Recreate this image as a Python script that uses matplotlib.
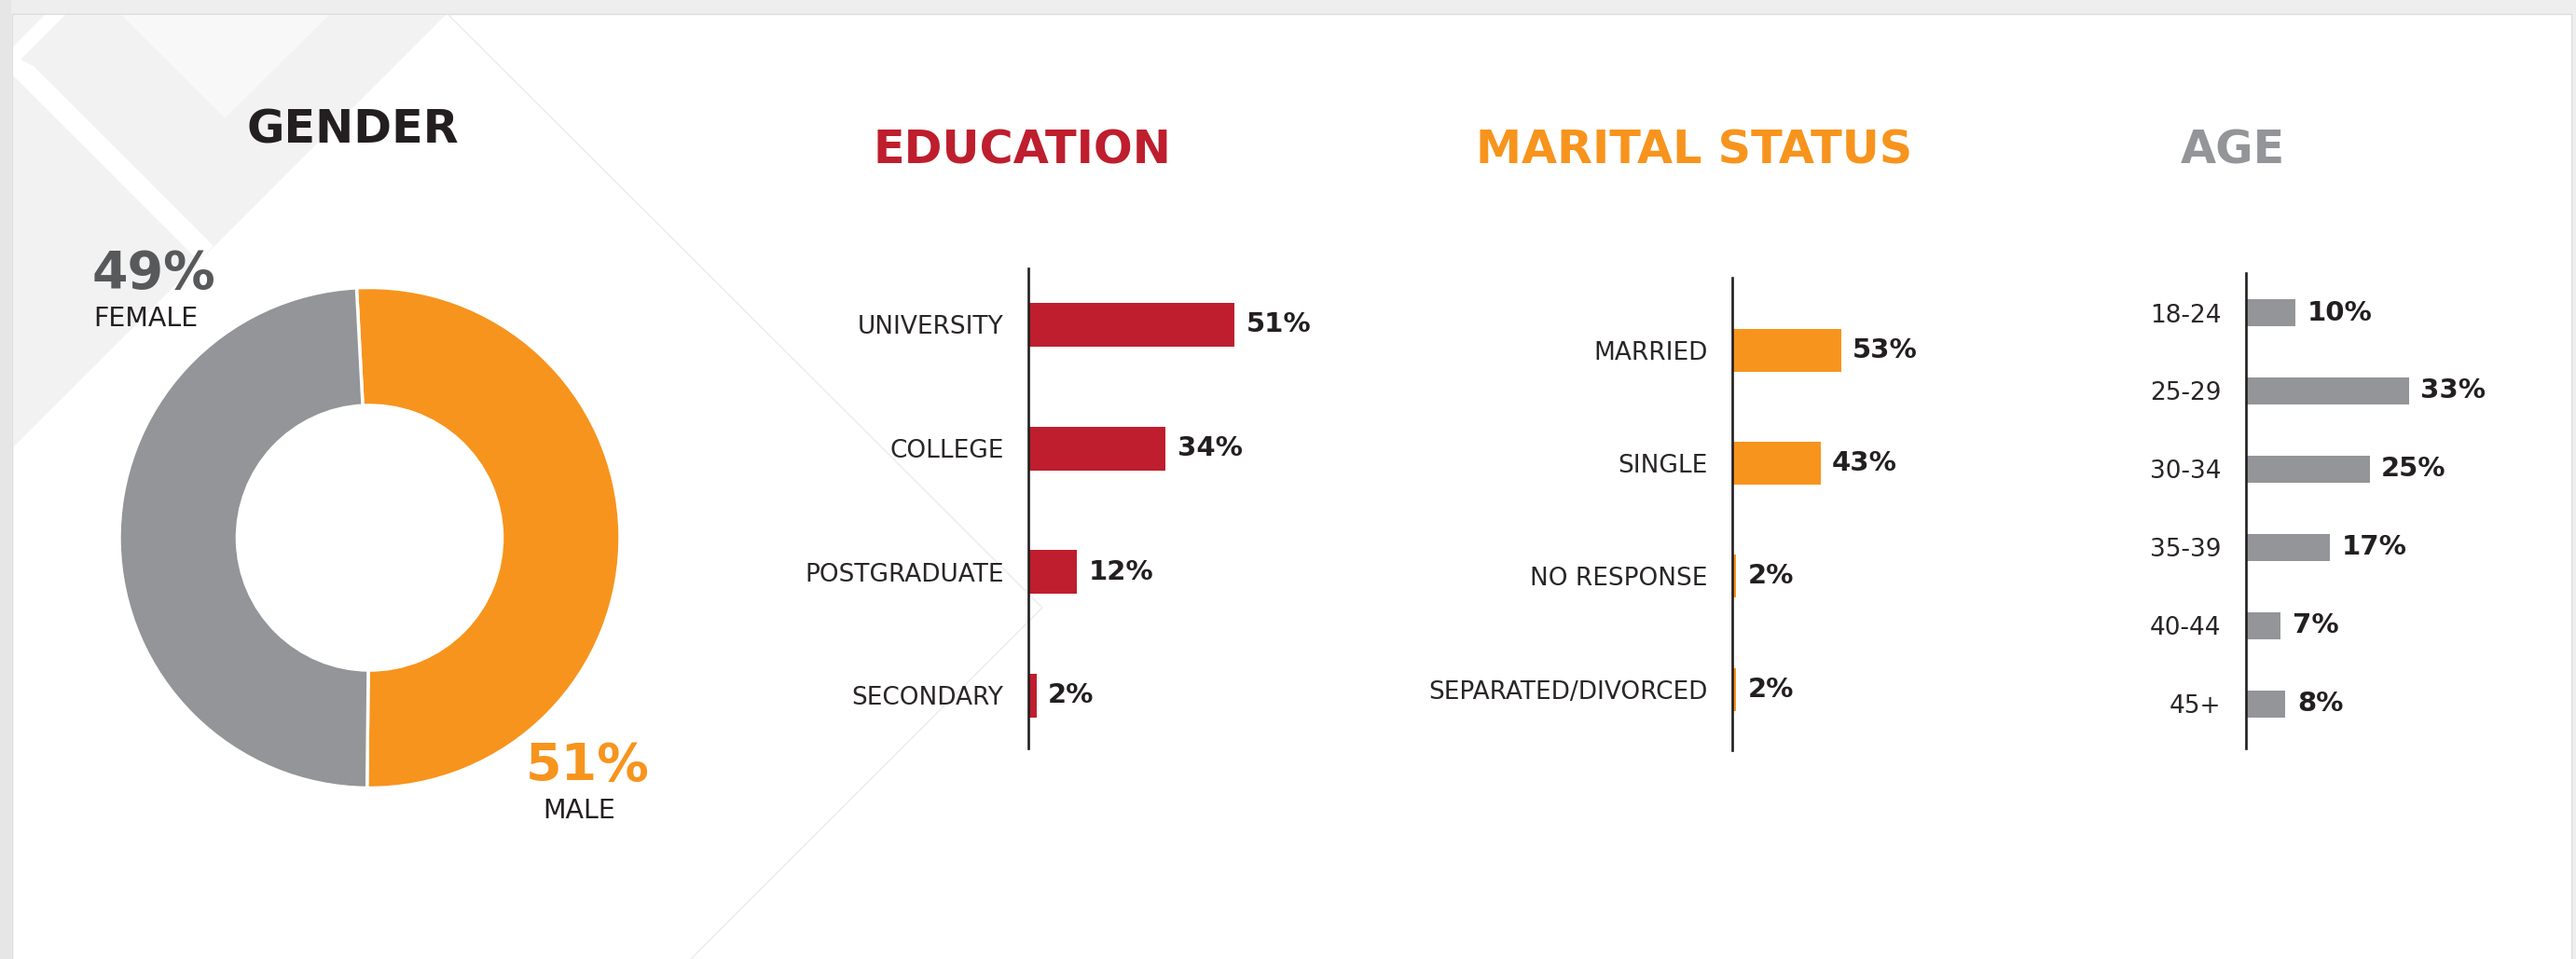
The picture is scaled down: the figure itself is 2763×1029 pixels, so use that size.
import matplotlib.pyplot as plt
import numpy as np
from matplotlib.patches import Polygon, Rectangle

plt.rcParams['font.family'] = ['DejaVu Sans']

W, H = 2763, 1029

# data
gender_labels = ['MALE', 'FEMALE']
gender_values = [51, 49]

edu_labels = ['UNIVERSITY', 'COLLEGE', 'POSTGRADUATE', 'SECONDARY']
edu_values = [51, 34, 12, 2]

marital_labels = ['MARRIED', 'SINGLE', 'NO RESPONSE', 'SEPARATED/DIVORCED']
marital_values = [53, 43, 2, 2]

age_labels = ['18-24', '25-29', '30-34', '35-39', '40-44', '45+']
age_values = [10, 33, 25, 17, 7, 8]

ORANGE = '#f7941d'
GREY = '#939598'
RED = '#be1e2d'
INK = '#231f20'


def box(x0, y0, x1, y1):
    # pixel box (top-left origin) -> figure fraction rect
    return [x0 / W, 1 - y1 / H, (x1 - x0) / W, (y1 - y0) / H]


def fx(x):
    return x / W


def fy(y):
    return 1 - y / H


fig = plt.figure(figsize=(W / 100, H / 100), dpi=100)
fig.patch.set_facecolor('#eeeeef')

# background panel and decoration
bg = fig.add_axes([0, 0, 1, 1], zorder=0)
bg.set_xlim(0, W)
bg.set_ylim(H, 0)
bg.axis('off')
bg.add_patch(Rectangle((0, 0), 12, H, color='#e6e6e6', lw=0))
bg.add_patch(Rectangle((13, 15), W - 18, H, facecolor='white', edgecolor='#dcdcdc', lw=1))
bg.add_patch(Polygon([(14, 16), (478, 16), (14, 480)], color='#f2f2f2', lw=0))
bg.add_patch(Polygon([(130, 16), (353, 16), (241.5, 127)], color='#f8f8f8', lw=0))
bg.add_patch(Polygon([(36, 71), (229, 264), (213, 280), (14, 81), (14, 60)], color='white', lw=0))
bg.add_patch(Polygon([(48, 16), (70, 16), (14, 72), (14, 50)], color='white', lw=0))
bg.plot([480, 1118, 741], [15, 652, 1029], color='#ececec', lw=1)


def bar_panel(x_axis, top, bottom, first, step, bar_px, scale, labels, values, color, vmax):
    n = len(values)
    ax = fig.add_axes(box(x_axis, top, x_axis + vmax * scale, bottom), zorder=2)
    ax.patch.set_alpha(0)
    pos = np.arange(n)
    ax.barh(pos, values, height=bar_px / step, color=color, zorder=1)
    ax.set_xlim(0, vmax)
    ax.set_ylim(n - 1 + (bottom - (first + (n - 1) * step)) / step, -(first - top) / step)
    for s in ['top', 'right', 'bottom']:
        ax.spines[s].set_visible(False)
    ax.spines['left'].set_color(INK)
    ax.spines['left'].set_linewidth(1.9)
    ax.spines['left'].set_zorder(3)
    ax.set_xticks([])
    ax.set_yticks(pos, labels)
    ax.tick_params(axis='y', length=0, pad=19, labelsize=19, labelcolor='#2a2627')
    for p, v in zip(pos, values):
        ax.annotate(f'{v}%', (v, p), xytext=(9, 0), textcoords='offset points',
                    ha='left', va='center', fontsize=21, fontweight='bold', color=INK)
    return ax


bar_panel(1103, 288, 803, 348.5, 132.5, 47, 4.33, edu_labels, edu_values, RED, 100)
bar_panel(1858, 298, 805, 376, 121.2, 46, 2.2, marital_labels, marital_values, ORANGE, 100)
bar_panel(2409, 293, 803, 335.5, 83.9, 29, 5.3, age_labels, age_values, GREY, 60)

# donut
cx, cy, R = 396.5, 577, 268.5
axd = fig.add_axes(box(cx - 1.1 * R, cy - 1.1 * R, cx + 1.1 * R, cy + 1.1 * R), zorder=2)
axd.pie(gender_values, colors=[ORANGE, GREY], startangle=93, counterclock=False,
        radius=1, wedgeprops=dict(width=0.471, edgecolor='white', linewidth=2.5))
axd.set_xlim(-1.1, 1.1)
axd.set_ylim(-1.1, 1.1)
axd.set_aspect('equal')

fig.text(fx(165), fy(309), f'{gender_values[1]}%', ha='center', va='baseline',
         fontsize=40, fontweight='bold', color='#58595b')
fig.text(fx(156.5), fy(350), gender_labels[1], ha='center', va='baseline',
         fontsize=20.5, color=INK)
fig.text(fx(630), fy(837), f'{gender_values[0]}%', ha='center', va='baseline',
         fontsize=40, fontweight='bold', color=ORANGE)
fig.text(fx(621), fy(878), gender_labels[0], ha='center', va='baseline',
         fontsize=20.5, color=INK)

# titles
fig.text(fx(378.5), fy(153), 'GENDER', ha='center', va='baseline', fontsize=35.5, fontweight='bold', color=INK)
fig.text(fx(1096), fy(176), 'EDUCATION', ha='center', va='baseline', fontsize=35.5, fontweight='bold', color=RED)
fig.text(fx(1817), fy(176), 'MARITAL STATUS', ha='center', va='baseline', fontsize=35.5, fontweight='bold', color=ORANGE)
fig.text(fx(2395), fy(176), 'AGE', ha='center', va='baseline', fontsize=35.5, fontweight='bold', color=GREY)

fig.savefig('out.png', dpi=100, facecolor=fig.get_facecolor())
